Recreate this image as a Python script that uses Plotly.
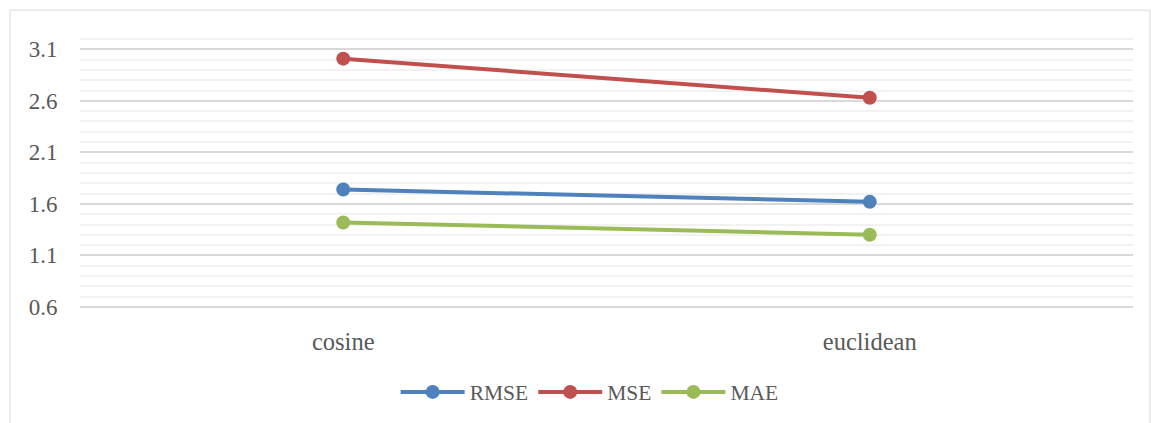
import plotly.graph_objects as go

# Distance metrics compared across error measures
metrics = ["cosine", "euclidean"]
rmse = [1.74, 1.62]
mse = [3.01, 2.63]
mae = [1.42, 1.30]

series = [
    ("RMSE", rmse, "#4F81BD"),
    ("MSE", mse, "#C0504D"),
    ("MAE", mae, "#9BBB59"),
]

FONT = "Liberation Serif"
TEXT = "#595959"

fig = go.Figure()
for name, vals, color in series:
    fig.add_trace(go.Scatter(
        x=metrics, y=vals, name=name, mode="lines+markers",
        line=dict(color=color, width=4),
        marker=dict(color=color, size=14),
    ))

fig.update_layout(
    width=1151, height=423,
    margin=dict(l=80, r=18, t=37, b=113),
    paper_bgcolor="white", plot_bgcolor="white",
    font=dict(family=FONT, size=23, color=TEXT),
    showlegend=True,
    legend=dict(
        orientation="h", x=0.484, xanchor="center", y=-0.225, yanchor="top",
        font=dict(family=FONT, size=21.5, color=TEXT),
        itemwidth=64, tracegroupgap=0,
    ),
    xaxis=dict(
        type="category", range=[-0.5, 1.5],
        showgrid=False, zeroline=False, showline=False,
        ticks="outside", ticklen=11, tickcolor="rgba(0,0,0,0)",
        tickfont=dict(family=FONT, size=24.5, color=TEXT),
    ),
    yaxis=dict(
        range=[0.58, 3.22], tick0=0.6, dtick=0.5, tickformat=".1f",
        showgrid=True, gridcolor="#D9D9D9", gridwidth=1.5,
        zeroline=False, showline=False,
        ticks="outside", ticklen=17, tickcolor="rgba(0,0,0,0)",
        tickfont=dict(family=FONT, size=23, color=TEXT),
        minor=dict(tick0=0.6, dtick=0.1, showgrid=True, gridcolor="#F2F2F2", gridwidth=1.5),
    ),
)

# Chart frame
fig.add_shape(
    type="rect", xref="paper", yref="paper",
    x0=(10 - 80) / 1053, x1=(1150 - 80) / 1053,
    y0=-0.5, y1=1 + 27 / 273,
    line=dict(color="#D9D9D9", width=1), fillcolor="rgba(0,0,0,0)", layer="below",
)

fig.write_html("out.html")
